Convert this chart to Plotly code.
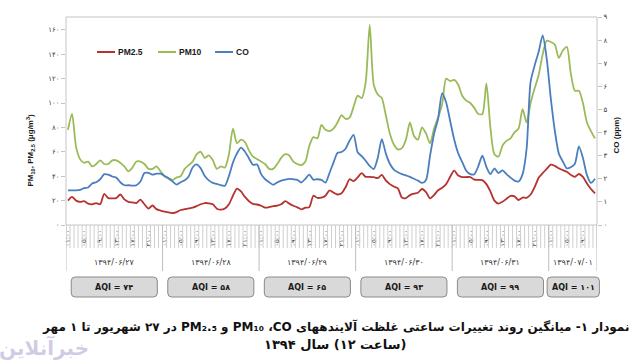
import plotly.graph_objects as go

# ---------------- data ----------------
day_labels = ["1394/06/27", "1394/06/28", "1394/06/29", "1394/06/30", "1394/06/31", "1394/07/01"]
day_hours = [24, 24, 24, 24, 24, 12]
aqi_values = [74, 58, 65, 93, 99, 101]
hour_tick_hours = [1, 5, 9, 13, 17, 21]

pm25 = [20, 23, 20, 19, 19.5, 17.5, 17, 18, 17, 25.5, 22, 21.8, 22, 25, 21, 19, 18.5, 18, 20.8, 17, 13.5, 16, 13, 11.8,
        11, 10.3, 9.8, 10.5, 12.3, 13, 13.6, 14.3, 15.5, 17, 18, 17.8, 17, 13.4, 12.6, 13.5, 17, 24, 29.8, 27.5, 23, 19.5, 17.3, 16.8,
        15.8, 14.2, 14.6, 15.4, 15.8, 17, 19.5, 17.5, 15.8, 14.5, 12.8, 14.2, 14.7, 24, 22.2, 22.5, 24, 28.4, 26.5, 25, 26, 31, 37.5, 36,
        39, 42.5, 39.5, 39.5, 39.2, 38.5, 41, 36.5, 33.5, 31.5, 30, 22.5, 22, 24.5, 25.7, 26.5, 29.5, 27, 21.8, 24.5, 28.5, 30.5, 33.5, 39.5,
        44.5, 40.5, 39.3, 39.3, 39.3, 37.2, 37, 36.8, 33.5, 27.5, 20, 17.6, 19, 21.5, 23.8, 23.5, 20.5, 22.5, 22.3, 25, 31, 38.8, 42.5, 46,
        49.5, 48.5, 46.5, 45, 43.6, 41, 39.5, 41.8, 39.5, 34, 29.5, 26]

pm10 = [78, 91, 64, 54, 51, 52, 48, 50, 53, 50, 50, 53, 53, 51, 48, 44, 47, 52, 52, 50, 46, 46, 48, 44,
        40, 38, 37, 39, 40, 46, 49, 52, 58, 60, 55, 57, 53, 46, 48, 47, 58, 79, 67, 70, 68, 61, 56, 54,
        52, 50, 46, 46, 50, 55, 58, 57, 52, 50, 49, 52, 65, 72, 71, 82, 78, 77, 79, 84, 90, 87, 88, 97,
        106, 104, 117, 164, 115, 107, 104, 90, 75, 66, 62, 63, 70, 84, 73, 70, 80, 75, 67, 79, 88, 99, 120, 118,
        119, 115, 106, 102, 100, 96, 91, 91, 116, 80, 58, 56, 65, 69, 71, 76, 79, 95, 84, 100, 112, 123, 140, 151,
        150, 148, 137, 143, 146, 124, 110, 110, 100, 84, 77, 71]

co = [1.5, 1.5, 1.5, 1.52, 1.6, 1.62, 1.8, 1.85, 1.98, 2.2, 2.18, 2.1, 2.05, 1.85, 1.72, 1.72, 1.7, 1.72, 1.88, 2.25, 2.26, 2.18, 2.22, 2.22,
      2.12, 2.02, 1.88, 1.75, 1.85, 1.94, 2.1, 2.5, 2.62, 2.45, 2.12, 1.93, 1.82, 1.78, 1.72, 1.7, 2.12, 2.7, 3.1, 3.35, 3.17, 2.88, 2.6, 2.62,
      2.2, 1.98, 1.85, 1.74, 1.84, 1.92, 1.96, 2.0, 1.98, 1.95, 1.84, 2.0, 2.18, 1.96, 1.98, 1.95, 1.83, 2.25, 2.7, 3.12, 3.16, 3.3, 3.65, 3.9,
      3.15, 2.98, 2.78, 2.55, 2.42, 2.9, 3.72, 3.1, 2.65, 2.4, 2.28, 2.2, 2.15, 2.08, 2.0, 1.92, 1.82, 1.95, 3.0, 3.95, 4.6, 5.7, 5.3, 4.5,
      3.7, 3.1, 2.72, 2.35, 2.2, 2.2, 2.55, 3.0, 2.52, 2.2, 2.45, 2.25, 2.36, 2.2, 2.05, 1.92, 1.88, 2.2, 3.3, 6.2, 6.9, 7.5, 8.2, 7.2,
      5.5, 4.1, 3.1, 2.75, 2.45, 2.5, 2.65, 3.4, 2.9, 2.16, 1.82, 2.0]

left_ticks = [0, 20, 40, 60, 80, 100, 120, 140, 160]
right_ticks = [0, 1, 2, 3, 4, 5, 6, 7, 8, 9]

# ---------------- helpers ----------------
FA = str.maketrans("0123456789", "۰۱۲۳۴۵۶۷۸۹")
def fa(v):
    return str(v).translate(FA)

n = sum(day_hours)
x = list(range(n))

tickvals, ticktext = [], []
start = 0
for dh in day_hours:
    for h in range(dh):
        if (h + 1) in hour_tick_hours:
            tickvals.append(start + h)
            ticktext.append(fa(f"{h+1:02d}:00"))
    start += dh

W, H = 640, 362
ML, MR, MT, MB = 66, 43, 17, 137
PW, PH = W - ML - MR, H - MT - MB
def py(px):
    return (H - MB - px) / PH
def pxp(px):
    return (px - ML) / PW

C_PM25 = "#B5322E"
C_PM10 = "#9BBB59"
C_CO = "#4A7EBF"
GRID = "#C4C4C4"
FONT_FA = "DejaVu Sans"

fig = go.Figure()
fig.add_trace(go.Scatter(x=x, y=pm25, mode="lines", name="PM2.5",
                         line=dict(color=C_PM25, width=1.8, shape="spline", smoothing=0.7)))
fig.add_trace(go.Scatter(x=x, y=pm10, mode="lines", name="PM10",
                         line=dict(color=C_PM10, width=1.8, shape="spline", smoothing=0.7)))
fig.add_trace(go.Scatter(x=x, y=co, mode="lines", name="CO", yaxis="y2",
                         line=dict(color=C_CO, width=1.8, shape="spline", smoothing=0.7)))

shapes = []
annotations = []

shapes.append(dict(type="rect", xref="paper", yref="paper", x0=0, x1=1, y0=0, y1=1,
                   line=dict(color=GRID, width=1)))

for k in range(n + 1):
    shapes.append(dict(type="line", xref="x", yref="paper", x0=k - 0.5, x1=k - 0.5,
                       y0=0, y1=py(248), line=dict(color="#CFCFCF", width=1)))
bounds = [-0.5]
start = 0
for dh in day_hours:
    start += dh
    bounds.append(start - 0.5)
for b in bounds:
    shapes.append(dict(type="line", xref="x", yref="paper", x0=b, x1=b,
                       y0=0, y1=py(271), line=dict(color="#BDBDBD", width=1)))
for d, lab in enumerate(day_labels):
    cx = (bounds[d] + bounds[d + 1]) / 2
    annotations.append(dict(x=cx, y=py(262), xref="x", yref="paper", text=fa(lab),
                            showarrow=False, font=dict(family=FONT_FA, size=8, color="#333333"),
                            xanchor="center", yanchor="middle"))

box_w_hours = [21.4, 21.4, 21.4, 21.4, 21.4, 13.0]
y0b, y1b = py(297), py(277)
for d, aq in enumerate(aqi_values):
    cx = (bounds[d] + bounds[d + 1]) / 2
    if d == len(aqi_values) - 1:
        cx += 0.1
    xl = (cx - box_w_hours[d] / 2 + 0.5) / n
    xr = (cx + box_w_hours[d] / 2 + 0.5) / n
    rx, ry = 4 / PW, 4 / PH
    path = (f"M{xl+rx},{y0b} L{xr-rx},{y0b} Q{xr},{y0b} {xr},{y0b+ry} L{xr},{y1b-ry} "
            f"Q{xr},{y1b} {xr-rx},{y1b} L{xl+rx},{y1b} Q{xl},{y1b} {xl},{y1b-ry} "
            f"L{xl},{y0b+ry} Q{xl},{y0b} {xl+rx},{y0b} Z")
    shapes.append(dict(type="path", xref="paper", yref="paper", path=path,
                       fillcolor="#D9D9D9", line=dict(color="#8A8A8A", width=1)))
    annotations.append(dict(x=(xl + xr) / 2, y=(y0b + y1b) / 2, xref="paper", yref="paper",
                            text="<b>AQI = " + fa(aq) + "</b>", showarrow=False,
                            font=dict(family=FONT_FA, size=8, color="#1A1A1A"),
                            xanchor="center", yanchor="middle"))

leg = [("PM2.5", C_PM25, 97), ("PM10", C_PM10, 158), ("CO", C_CO, 215)]
for name, col, px0 in leg:
    shapes.append(dict(type="line", xref="paper", yref="paper", x0=pxp(px0), x1=pxp(px0 + 18),
                       y0=py(52), y1=py(52), line=dict(color=col, width=2)))
    annotations.append(dict(x=pxp(px0 + 19), y=py(52), xref="paper", yref="paper",
                            text="<b>" + name + "</b>", showarrow=False, xanchor="left", yanchor="middle",
                            font=dict(family="Liberation Sans", size=8.5, color="#1A1A1A")))

annotations.append(dict(x=pxp(22), y=py(150), xref="paper", yref="paper", textangle=-90,
                        text="<b>PM<sub>10</sub>, PM<sub>2.5</sub> (μg/m<sup>3</sup>)</b>",
                        showarrow=False, font=dict(family="Liberation Sans", size=8, color="#1A1A1A")))
annotations.append(dict(x=pxp(622), y=py(135), xref="paper", yref="paper", textangle=-90,
                        text="<b>CO (ppm)</b>", showarrow=False,
                        font=dict(family="Liberation Sans", size=8, color="#1A1A1A")))

RLE, PDF, RLM = "\u202B", "\u202C", "\u200F"
cap1 = "نمودار ۱- میانگین روند تغییرات ساعتی غلظت آلایندههای CO،" + RLM + " PM₁₀ و PM₂.₅ در ۲۷ شهریور تا ۱ مهر"
cap2 = "(ساعت ۱۲) سال ۱۳۹۴"
annotations.append(dict(x=pxp(335), y=py(327), xref="paper", yref="paper",
                        text="<b>" + RLE + cap1 + PDF + "</b>", showarrow=False,
                        font=dict(family=FONT_FA, size=12, color="#111111"), xanchor="center", yanchor="middle"))
annotations.append(dict(x=pxp(335), y=py(344), xref="paper", yref="paper",
                        text="<b>" + RLE + cap2 + PDF + "</b>", showarrow=False,
                        font=dict(family=FONT_FA, size=13, color="#111111"), xanchor="center", yanchor="middle"))

annotations.append(dict(x=pxp(44), y=py(347), xref="paper", yref="paper", text="<b>خبرآنلاین</b>",
                        showarrow=False, font=dict(family=FONT_FA, size=20, color="rgba(150,140,200,0.45)"),
                        xanchor="center", yanchor="middle"))

fig.update_layout(
    width=W, height=H,
    margin=dict(l=ML, r=MR, t=MT, b=MB, autoexpand=False),
    paper_bgcolor="white", plot_bgcolor="white",
    showlegend=False,
    xaxis=dict(range=[-0.5, n - 0.5], tickmode="array", tickvals=tickvals, ticktext=ticktext,
               tickangle=-90, ticks="", showgrid=False, zeroline=False, showline=False,
               tickfont=dict(family=FONT_FA, size=7, color="#404040"), ticklabelstandoff=2),
    yaxis=dict(range=[0, 170.5], tickmode="array", tickvals=left_ticks,
               ticktext=[fa(v) for v in left_ticks], showgrid=False, zeroline=False,
               showline=False, ticks="outside", ticklen=4, tickcolor=GRID,
               tickfont=dict(family=FONT_FA, size=7, color="#404040")),
    yaxis2=dict(range=[0, 9], overlaying="y", side="right", tickmode="array", tickvals=right_ticks,
                ticktext=[fa(v) for v in right_ticks], showgrid=False, zeroline=False,
                showline=False, ticks="outside", ticklen=4, tickcolor=GRID,
                tickfont=dict(family=FONT_FA, size=7, color="#404040")),
    shapes=shapes, annotations=annotations,
)

fig.write_html("out.html", config={"displayModeBar": False},
               post_script="document.body.style.margin='0';document.body.style.overflow='hidden';")
